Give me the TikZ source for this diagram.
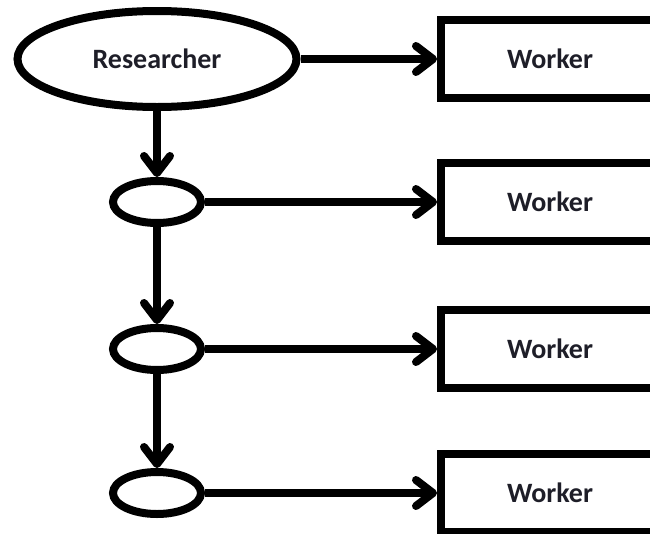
\documentclass[tikz,border=0pt]{standalone}
\usepackage{fontspec}
\setmainfont{Carlito}
\usepackage{xcolor}
\definecolor{inkgray}{HTML}{1E1E28}
\usetikzlibrary{arrows.meta, positioning, shapes.geometric}

\begin{document}
\begin{tikzpicture}[x=1pt, y=-1pt, >={Straight Barb[round, length=17pt, width=26pt]}, line/.style={draw=black, line width=#1}, every node/.style={font=\fontsize{28}{32}\selectfont\bfseries, text=inkgray}]
    % Define styles for researcher, relay ellipses and workers
    \tikzstyle{lead} = [draw, fill=white, ellipse, minimum width=279pt, minimum height=96pt, inner sep=0pt, line width=8pt]
    \tikzstyle{hub} = [draw, fill=white, ellipse, minimum width=88pt, minimum height=42pt, inner sep=0pt, line width=8pt]
    \tikzstyle{worker} = [draw, fill=white, rectangle, minimum width=218pt, minimum height=78pt, inner sep=0pt, line width=8pt]

    \useasboundingbox (0,0) rectangle (650,533);
    \clip (0,0) rectangle (650,533);

    % Nodes placement
    \node [lead] (researcher) at (157,59) {Researcher};
    \node [hub, below of=researcher, node distance=143pt] (hubA) {};
    \node [hub, below of=hubA, node distance=147pt] (hubB) {};
    \node [hub, below of=hubB, node distance=144pt] (hubC) {};
    \node [worker, right of=researcher, node distance=393pt] (workerA) {Worker};
    \node [worker, right of=hubA, node distance=393pt] (workerB) {Worker};
    \node [worker, right of=hubB, node distance=393pt] (workerC) {Worker};
    \node [worker, right of=hubC, node distance=393pt] (workerD) {Worker};

    % Draw edges
    \draw [line=8pt, ->] (researcher) -- (workerA);
    \draw [line=8pt, ->] (researcher) -- (hubA);
    \draw [line=8pt, ->] (hubA) -- (workerB);
    \draw [line=8pt, ->] (hubA) -- (hubB);
    \draw [line=8pt, ->] (hubB) -- (workerC);
    \draw [line=8pt, ->] (hubB) -- (hubC);
    \draw [line=8pt, ->] (hubC) -- (workerD);
\end{tikzpicture}
\end{document}
